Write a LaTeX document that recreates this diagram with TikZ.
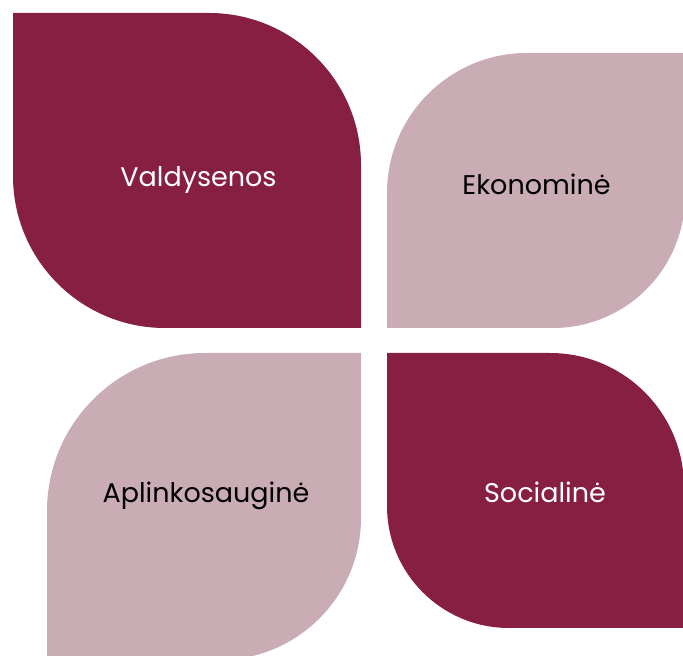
\documentclass[tikz,border=0pt]{standalone}
\usepackage{fontspec}
\setmainfont{Poppins}
\definecolor{wine}{HTML}{861F41}
\definecolor{rose}{HTML}{CAACB4}

\begin{document}
\begin{tikzpicture}[x=1pt, y=1pt,
		leaflabel/.style={anchor=base, inner sep=0pt, font=\fontsize{27}{32}\selectfont}]
		%%%%% START %%%%%
		
		\clip (0, 0) rectangle (683, 656);
		
		% Valdysenos leaf
		\fill[wine] (13, 643) -- (209, 643) arc (90:0:152) -- (361, 328) -- (165, 328) arc (270:180:152) -- cycle;
		% Ekonomine leaf
		\fill[rose] (387, 328) -- (387, 463) arc (180:90:140) -- (685, 603) -- (685, 460) arc (0:-90:132) -- cycle;
		% Aplinkosaugine leaf
		\fill[rose] (47, -4) -- (47, 145) arc (180:90:158) -- (361, 303) -- (361, 138) arc (0:-90:142) -- cycle;
		% Socialine leaf
		\fill[wine] (387, 303) -- (550, 303) arc (90:0:134) -- (684, 28) -- (509, 28) arc (270:180:122) -- cycle;
		
		\node[leaflabel, text=white] (valdysenos) at (198.5, 469) {Valdysenos};
		\node[leaflabel] (ekonomine) at (536.5, 461) {Ekonominė};
		\node[leaflabel] (aplinkosaugine) at (206, 153) {Aplinkosauginė};
		\node[leaflabel, text=white] (sociline) at (545, 153) {Socialinė};
		
		%%%%% END %%%%%
	\end{tikzpicture}
\end{document}
